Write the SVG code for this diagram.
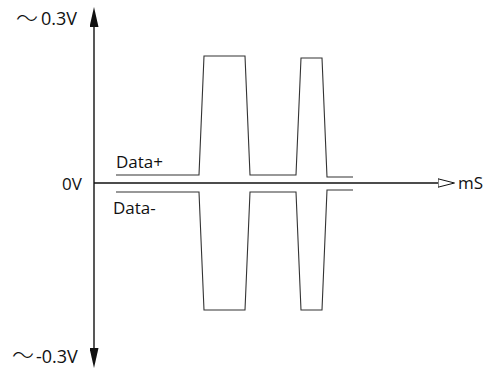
<svg xmlns="http://www.w3.org/2000/svg" width="487" height="369" viewBox="0 0 487 369">
  <style>
    .lbl { font-family: "Open Sans", "Noto Sans", sans-serif; font-size: 17px; fill: #111; }
    .volt { font-size: 18px; }
    .tilde { font-family: "Noto Sans CJK JP", "Noto Sans CJK SC", sans-serif; font-weight: 300; font-size: 22px; fill: #111; }
    .axis { stroke: #111; stroke-width: 1.4; fill: none; }
    .wave { stroke: #333; stroke-width: 1.1; fill: none; stroke-linejoin: miter; }
  </style>
  <defs>
    <marker id="solid" viewBox="0 0 20 9" refX="0" refY="4.5" markerWidth="20" markerHeight="9" markerUnits="userSpaceOnUse" orient="auto-start-reverse">
      <path d="M0,0 L20,4.5 L0,9 Z" fill="#111"/>
    </marker>
    <marker id="open" viewBox="0 0 18 10" refX="0.5" refY="5" markerWidth="18" markerHeight="10" markerUnits="userSpaceOnUse" orient="auto">
      <path d="M0.5,0.8 L17,5 L0.5,9.2 Z" fill="#fff" stroke="#111" stroke-width="1"/>
    </marker>
  </defs>
  <rect width="487" height="369" fill="#fff"/>
  <g id="connectors">
    <line id="y-axis" class="axis" x1="94" y1="348" x2="94" y2="27" marker-start="url(#solid)" marker-end="url(#solid)"/>
    <line id="x-axis" class="axis" x1="94" y1="183" x2="438" y2="183" marker-end="url(#open)"/>
  </g>
  <g id="data-plus">
    <polyline class="wave" points="116,175 199,175 204,56 245,56 250,175 296,175 301,58 322,58 327,177 353,177"/>
    <text class="lbl" x="116" y="168">Data+</text>
  </g>
  <g id="data-minus">
    <polyline class="wave" points="116,192 199,192 204,310 245,310 250,192 296,192 301,310 322,310 327,190 353,190"/>
    <text class="lbl" x="113" y="214">Data-</text>
  </g>
  <g id="labels">
    <text class="lbl" x="62" y="190">0V</text>
    <text class="lbl" x="458" y="189">mS</text>
    <text class="lbl volt" x="16" y="25"><tspan class="tilde" dy="1">〜</tspan><tspan x="41" dy="-1">0.3V</tspan></text>
    <text class="lbl volt" x="12" y="363"><tspan class="tilde">〜</tspan><tspan x="36">-0.3V</tspan></text>
  </g>
</svg>
